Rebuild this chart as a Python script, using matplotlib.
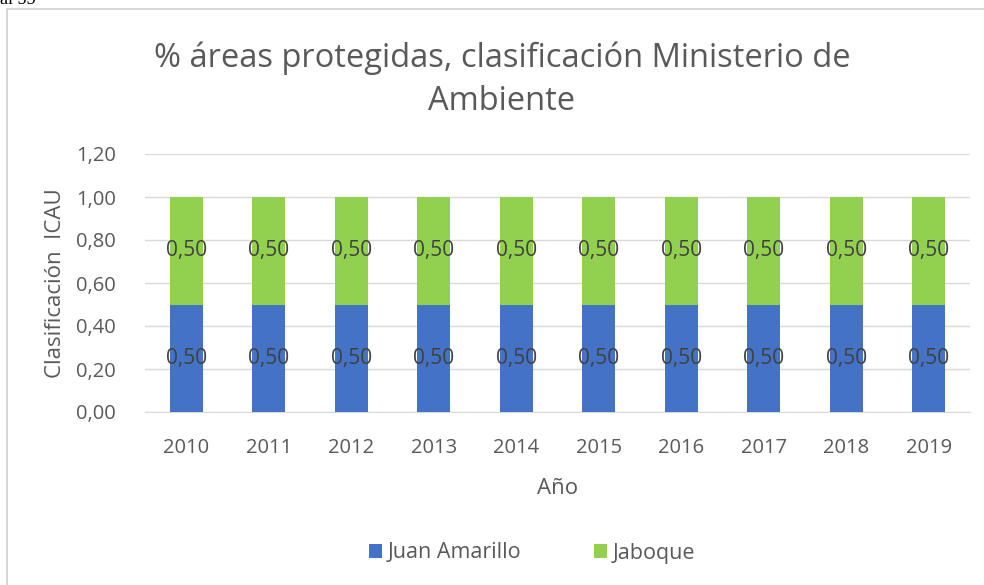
import matplotlib
matplotlib.use("Agg")
import matplotlib.pyplot as plt
from matplotlib.patches import Rectangle
from matplotlib.ticker import FuncFormatter

years = ["2010", "2011", "2012", "2013", "2014", "2015", "2016", "2017", "2018", "2019"]
juan_amarillo = [0.50, 0.50, 0.50, 0.50, 0.50, 0.50, 0.50, 0.50, 0.50, 0.50]
jaboque = [0.50, 0.50, 0.50, 0.50, 0.50, 0.50, 0.50, 0.50, 0.50, 0.50]
yticks = [0.0, 0.2, 0.4, 0.6, 0.8, 1.0, 1.2]

plt.rcParams['font.family'] = ['Open Sans', 'DejaVu Sans']
TXT = '#595959'
BLUE = '#4472C4'
GREEN = '#92D050'
GRID = '#D9D9D9'

fig = plt.figure(figsize=(9.84, 5.85), dpi=100)
W, H = 984, 585

# outer chart border
fig.patches.append(Rectangle((7 / W, -0.1), 1.2, (585 - 9) / H + 0.1,
                             transform=fig.transFigure, fill=False,
                             edgecolor='#D0D0D0', linewidth=1.2))
# clipped document text at top-left
fig.text(0.0, 1.0, "al 55", family=['Liberation Serif', 'DejaVu Serif'],
         fontsize=13, color='black', va='center', ha='left')

ax = fig.add_axes([145 / W, 1 - 412 / H, (970 - 145) / W, (412 - 154) / H])
x = list(range(len(years)))
bw = 0.4
b1 = ax.bar(x, juan_amarillo, width=bw, color=BLUE, label='Juan Amarillo', zorder=3)
b2 = ax.bar(x, jaboque, width=bw, bottom=juan_amarillo, color=GREEN, label='Jaboque', zorder=3)

fmt = lambda v: f"{v:.2f}".replace('.', ',')
for i in x:
    ax.text(i, juan_amarillo[i] / 2, fmt(juan_amarillo[i]), ha='center', va='center',
            fontsize=15, color='#404040', zorder=4)
    ax.text(i, juan_amarillo[i] + jaboque[i] / 2, fmt(jaboque[i]), ha='center', va='center',
            fontsize=15, color='#404040', zorder=4)

ax.set_xlim(-0.5, len(years) - 0.5)
ax.set_ylim(0, 1.2)
ax.set_yticks(yticks)
ax.yaxis.set_major_formatter(FuncFormatter(lambda v, p: fmt(v)))
ax.set_xticks(x)
ax.set_xticklabels(years)
ax.grid(axis='y', color=GRID, linewidth=1, zorder=0)
for s in ['top', 'right', 'left']:
    ax.spines[s].set_visible(False)
ax.spines['bottom'].set_color(GRID)
ax.tick_params(axis='both', length=0, labelsize=14.5, colors=TXT)
ax.tick_params(axis='x', pad=19)
ax.tick_params(axis='y', pad=21)
ax.set_xlabel('Año', fontsize=16, color=TXT, labelpad=14)
ax.set_ylabel('Clasificación  ICAU', fontsize=16, color=TXT, labelpad=7)

fig.text(502 / W, 1 - 80 / H, '% áreas protegidas, clasificación Ministerio de\nAmbiente',
         ha='center', va='center', fontsize=23.5, color=TXT, linespacing=1.42)

fig.legend(handles=[b1, b2], labels=['Juan Amarillo', 'Jaboque'], loc='center',
           bbox_to_anchor=(532 / W, 1 - 553 / H), ncol=2, frameon=False,
           fontsize=15.5, labelcolor=TXT, handlelength=0.6, handleheight=0.6,
           handletextpad=0.25, columnspacing=3.4)

fig.savefig('out.png', dpi=100)
